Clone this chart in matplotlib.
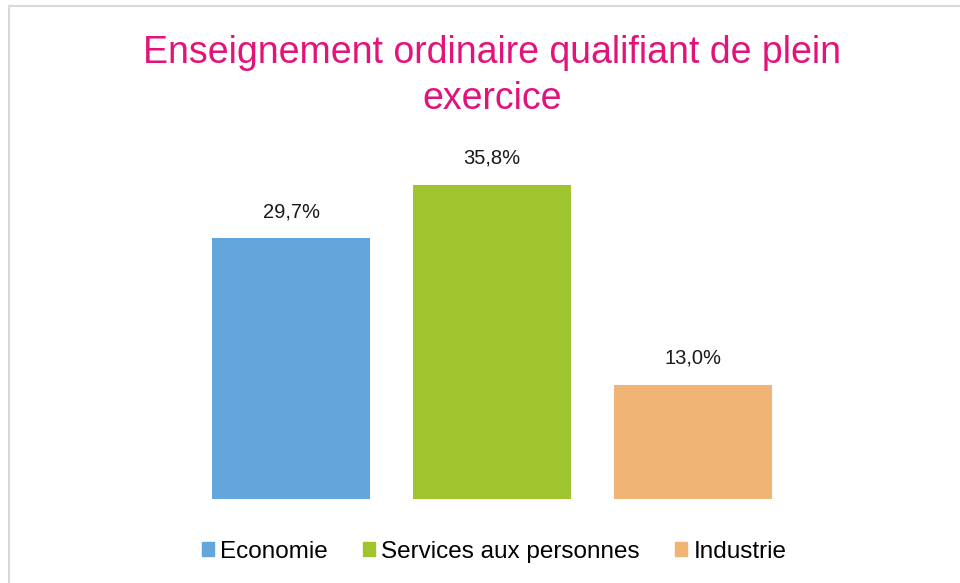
import matplotlib.pyplot as plt
from matplotlib.lines import Line2D
from matplotlib.patches import Rectangle

# données
categories = ['Economie', 'Services aux personnes', 'Industrie']
valeurs = [29.7, 35.8, 13.0]
etiquettes = ['29,7%', '35,8%', '13,0%']
couleurs = ['#63A6DB', '#A0C42D', '#F0B474']

plt.rcParams['font.family'] = ['Liberation Sans', 'DejaVu Sans']

fig = plt.figure(figsize=(9.6, 5.83), dpi=100)
ax = fig.add_axes([190.5/960, 84/583, 603/960, 351/583])

x = range(len(categories))
bars = ax.bar(x, valeurs, width=0.786, color=couleurs)
for b, lab in zip(bars, etiquettes):
    ax.annotate(lab, (b.get_x() + b.get_width()/2, b.get_height()),
                xytext=(0, 17), textcoords='offset pixels',
                ha='center', va='bottom', fontsize=14.5, color='#1a1a1a')

ax.set_xlim(-0.5, 2.5)
ax.set_ylim(0, 40)
ax.axis('off')

fig.text(492/960, 1 - 76/583, 'Enseignement ordinaire qualifiant de plein\nexercice',
         ha='center', va='center', fontsize=27, color='#E2147A', linespacing=1.36)

# légende
poignees = [Rectangle((0, 0), 1, 1, color=c) for c in couleurs]
fig.legend(poignees, categories, loc='center', bbox_to_anchor=(494/960, 1 - 552/583),
           ncol=3, frameon=False, fontsize=17.5, handlelength=0.5, handleheight=0.5,
           handletextpad=0.25, columnspacing=1.45)

# cadre gris (gauche et haut)
fig.add_artist(Line2D([9/960, 9/960], [0, 1 - 6/583], color='#d9d9d9', lw=1.5))
fig.add_artist(Line2D([9/960, 1], [1 - 6/583, 1 - 6/583], color='#d9d9d9', lw=1.5))

fig.savefig('out.png', dpi=100)
